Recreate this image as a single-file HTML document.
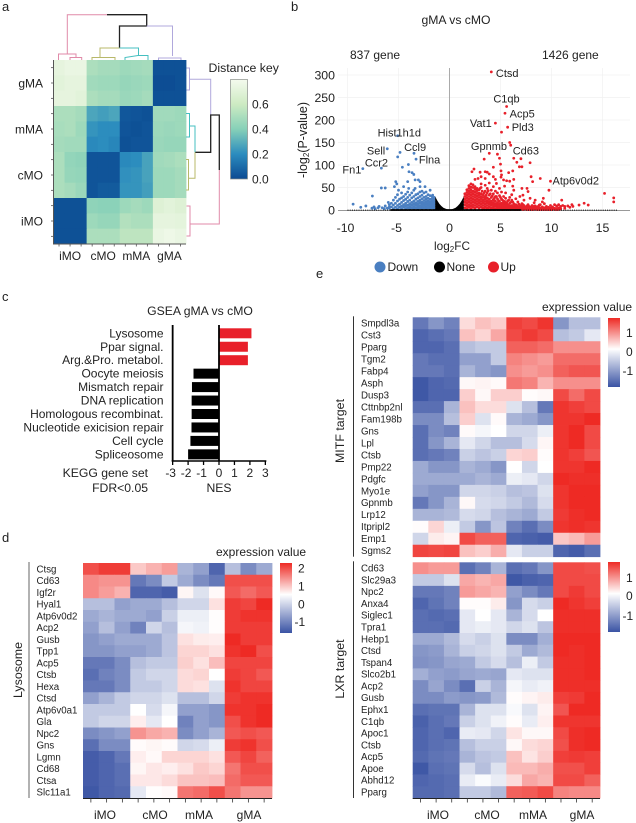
<!DOCTYPE html>
<html><head><meta charset="utf-8"><title>Figure panels a-e</title>
<style>
html,body{margin:0;padding:0;background:#fff;width:636px;height:823px;overflow:hidden}
svg{display:block;position:absolute;left:0;top:0;filter:blur(.3px)}
text{font-family:"Liberation Sans",sans-serif;fill:#222}
</style></head><body>
<svg id="fig" xmlns="http://www.w3.org/2000/svg" width="636" height="823" viewBox="0 0 636 823">
<defs>
<linearGradient id="gnbuGrad" x1="0" y1="1" x2="0" y2="0"><stop offset="0" stop-color="#0b4a92"/><stop offset=".25" stop-color="#2b8cbe"/><stop offset=".5" stop-color="#86d0b8"/><stop offset=".75" stop-color="#cdeac2"/><stop offset="1" stop-color="#f4faee"/></linearGradient>
<linearGradient id="bwrGrad" x1="0" y1="0" x2="0" y2="1"><stop offset="0" stop-color="#ee2a24"/><stop offset=".45" stop-color="#ffffff"/><stop offset="1" stop-color="#3a53a4"/></linearGradient>
</defs>
<text x="2" y="11" font-size="13">a</text>
<text x="291" y="11" font-size="13">b</text>
<text x="2" y="301" font-size="13">c</text>
<text x="2" y="542" font-size="13">d</text>
<text x="316" y="278" font-size="13">e</text>

<g id="panelA"></g>
<g fill="none" stroke-width="1">
<path stroke="#e08aa8" d="M107 14.7H67.3V53.5M58.5 60V54H76V57.5H70V60M81.7 60V57.5H76"/>
<path stroke="#222" stroke-width="1.3" d="M107 14.7H146.7V26H119.5V48"/>
<path stroke="#b0a8dc" d="M146.7 26H172.5V56M158.5 60V58H181V60"/>
<path stroke="#b8b86a" d="M119.5 48H100V57.5M92 60V57.5H115V60"/>
<path stroke="#45bfc0" d="M119.5 48H138.5V55M125 60V57.5L138 55.5H148V60"/>
</g>
<g fill="none" stroke-width="1">
<path stroke="#b0a8dc" d="M189 79.3H210.7V115M186.5 68H189.5V90H186.5"/>
<path stroke="#222" stroke-width="1.3" d="M195 152.3H210.7V115H219.3V170"/>
<path stroke="#e08aa8" d="M219.3 170V224H190V206H186.5M190 224V236H186.5"/>
<path stroke="#45bfc0" d="M195 152.3V126H189.5M186 113.5H189.5V137H186"/>
<path stroke="#b8b86a" d="M195 152.3V178.3H188.5M186 159.5H188.5V190H186"/>
</g>
<text x="208.5" y="72" font-size="12.3">Distance key</text>
<rect x="230.5" y="79.5" width="17" height="99.5" fill="url(#gnbuGrad)" stroke="#8a8f8a" stroke-width=".7"/>

<g id="panelB"></g>
<text x="456" y="24" font-size="12.2" text-anchor="middle">gMA vs cMO</text>
<text x="350" y="59" font-size="12">837 gene</text>
<text x="542" y="59" font-size="12">1426 gene</text>
<text transform="translate(307,140) rotate(-90)" font-size="12.5" text-anchor="middle">-log<tspan font-size="8" dy="2">2</tspan><tspan dy="-2">(P-value)</tspan></text>
<text x="452" y="250" font-size="11.8" text-anchor="middle">log<tspan font-size="8" dy="2">2</tspan><tspan dy="-2">FC</tspan></text>
<g font-size="12">
<circle cx="380" cy="267" r="5.5" fill="#4a7fc1"/><text x="387.5" y="271" font-size="12">Down</text>
<circle cx="439.5" cy="267" r="5.5" fill="#000"/><text x="446.5" y="271" font-size="12">None</text>
<circle cx="493.5" cy="267" r="5.5" fill="#e8202a"/><text x="500.5" y="271" font-size="12">Up</text>
</g>

<g id="panelC"></g>
<text x="200" y="315" font-size="12.2" text-anchor="middle">GSEA gMA vs cMO</text>
<text x="148" y="477" font-size="12.2" text-anchor="end">KEGG gene set</text>
<text x="148" y="492" font-size="12.2" text-anchor="end">FDR&lt;0.05</text>
<text x="219" y="492" font-size="12.2" text-anchor="middle">NES</text>

<g id="panelD"></g>
<g id="panelE1"></g>
<g id="panelE2"></g>
</svg>
<script>
// Panel a data
const distanceRowGroups = ["gMA","mMA","cMO","iMO"];
const distanceColGroups = ["iMO","cMO","mMA","gMA"];
const distanceKeyTicks = [0,0.2,0.4,0.6];
const distanceValues = [
[.72,.74,.74,.50,.48,.48,.46,.47,.48,.02,.02,.02],
[.70,.72,.72,.47,.46,.46,.44,.45,.46,.01,.01,.02],
[.72,.72,.70,.50,.48,.48,.45,.46,.48,.02,.02,.02],
[.50,.50,.48,.27,.25,.27,.04,.03,.02,.47,.47,.46],
[.49,.50,.46,.22,.20,.20,.03,.02,.03,.46,.45,.46],
[.48,.47,.47,.19,.20,.18,.02,.03,.03,.45,.44,.44],
[.50,.43,.42,.03,.03,.03,.19,.20,.26,.47,.48,.50],
[.50,.44,.43,.03,.03,.03,.21,.22,.26,.46,.46,.48],
[.50,.48,.45,.03,.05,.05,.22,.22,.25,.46,.46,.48],
[.02,.02,.02,.42,.41,.41,.46,.48,.46,.68,.70,.68],
[.02,.02,.02,.46,.44,.44,.52,.50,.50,.72,.72,.71],
[.02,.02,.02,.50,.50,.50,.55,.55,.55,.74,.76,.74]];

// Panel b data
const volcanoXTicks = [-10,-5,0,5,10,15];
const volcanoYTicks = [0,50,100,150,200,250,300];
const upPoints = [[4.1,307],[5.6,230],[5.44,215],[4.5,193],[5.1,173],[5.7,184],[5.9,150],[6,144],[3.9,126],[4.7,124],[3.4,113],[4.9,115],[5,102],[6.3,115],[7,114],[6.6,106],[7.9,105],[6.85,96],[7.1,96],[6.2,87],[5.8,83],[5.05,87],[5.1,78],[5.05,73],[2.4,91],[2.2,85],[3,84],[3.5,85],[3.7,84],[4.3,95],[3.9,80],[8,74],[8.9,70],[8.15,63],[9.9,64],[9.75,44],[2.5,68],[2.8,70],[3.1,74],[3.5,70],[4.3,74],[4.5,68],[4.6,59],[5.3,67],[5.6,65],[5.9,64],[6.3,68],[5.4,53],[6.2,53],[6.3,44],[7.1,48],[7.6,48],[7.7,41],[7.2,33],[7.9,26],[8.4,22],[9.2,26],[15.2,37],[16.1,27],[16.1,18],[13.6,11],[13.2,15],[12.7,11],[11,22],[12,12],[11.6,9],
[1.5,5],[1.5,12],[1.5,18],[1.5,24],[1.5,30],[1.5,36],[1.7,3],[1.7,9],[1.7,15],[1.7,21],[1.7,27],[1.7,33],[1.7,39],[1.7,45],[1.9,6],[1.9,12],[1.9,18],[1.9,24],[1.9,30],[1.9,36],[1.9,42],[1.9,48],[1.9,54],[2.1,3],[2.1,9],[2.1,15],[2.1,21],[2.1,27],[2.1,33],[2.1,39],[2.1,45],[2.1,51],[2.1,58],[2.3,6],[2.3,12],[2.3,18],[2.3,24],[2.3,30],[2.3,36],[2.3,42],[2.3,50],[2.3,56],[2.5,4],[2.5,10],[2.5,16],[2.5,22],[2.5,28],[2.5,34],[2.5,40],[2.5,46],[2.5,52],[2.7,7],[2.7,13],[2.7,19],[2.7,25],[2.7,31],[2.7,37],[2.7,43],[2.7,48],[2.9,4],[2.9,10],[2.9,16],[2.9,22],[2.9,28],[2.9,34],[2.9,38],[2.9,45],[3.1,7],[3.1,13],[3.1,19],[3.1,25],[3.1,30],[3.1,36],[3.1,50],[3.1,58],[3.3,4],[3.3,10],[3.3,16],[3.3,22],[3.3,28],[3.3,34],[3.5,7],[3.5,13],[3.5,19],[3.5,25],[3.5,30],[3.5,42],[3.5,55],[3.7,4],[3.7,10],[3.7,16],[3.7,21],[3.7,27],[3.7,38],[3.7,48],[3.9,7],[3.9,13],[3.9,18],[3.9,24],[3.9,33],[3.9,60],[4.1,4],[4.1,10],[4.1,15],[4.1,20],[4.1,28],[4.1,44],[4.3,6],[4.3,12],[4.3,17],[4.3,23],[4.3,36],[4.3,52],[4.5,3],[4.5,9],[4.5,14],[4.5,20],[4.5,30],[4.5,42],[4.7,6],[4.7,11],[4.7,16],[4.7,25],[4.7,38],[4.9,3],[4.9,8],[4.9,13],[4.9,19],[4.9,32],[4.9,48],[5.1,5],[5.1,10],[5.1,15],[5.1,24],[5.1,40],[5.3,3],[5.3,8],[5.3,13],[5.3,18],[5.3,30],[5.5,5],[5.5,10],[5.5,14],[5.5,26],[5.5,38],[5.7,3],[5.7,7],[5.7,12],[5.7,20],[5.9,5],[5.9,9],[5.9,15],[5.9,28],[6.1,2],[6.1,6],[6.1,10],[6.1,22],[6.1,34],[6.3,4],[6.3,8],[6.3,14],[6.5,2],[6.5,6],[6.5,12],[6.5,25],[6.7,3],[6.7,7],[6.7,18],[6.9,2],[6.9,5],[6.9,10],[6.9,30],[7.1,3],[7.1,7],[7.1,14],[7.3,2],[7.3,5],[7.3,10],[7.3,22],[7.5,3],[7.5,6],[7.7,2],[7.7,5],[7.7,12],[7.9,3],[7.9,7],[8.1,2],[8.1,4],[8.1,10],[8.3,3],[8.3,6],[8.3,16],[8.5,2],[8.5,5],[8.7,3],[8.7,8],[8.9,2],[8.9,5],[8.9,12],[9.1,3],[9.1,7],[9.1,18],[9.3,2],[9.3,5],[9.3,14],[9.5,3],[9.5,8],[9.7,2],[9.7,6],[9.9,4],[9.9,10],[10.1,2],[10.1,7],[10.3,4],[10.3,12],[10.5,3],[10.5,9],[10.7,5],[10.7,12],[10.9,3],[10.9,8],[11.1,10],[11.3,4],[11.3,8],[11.8,6],[12.1,8],
[3.2,1],[3.4,2],[3.6,1],[3.8,2],[4,1],[4.2,2],[4.4,1],[4.6,2],[4.8,1],[5,2],[5.2,1],[5.4,2],[5.6,1],[5.8,2],[6,1],[6.2,2],[6.4,1],[6.6,1],[6.8,1],[7,2],[7.2,1],[7.4,2],[7.6,1],[7.8,1],[8,1],[8.2,1],[8.4,2],[8.6,1],[8.8,1],[9,1],[9.2,1],[9.4,1],[9.6,1],[9.8,1],[10,1],[10.2,2],[10.4,1],[10.6,1],[10.8,2],[6.2,18],[6.4,11],[6.6,9],[6.8,13],[7,9],[7.2,12],[7.4,7],[7.6,9],[7.8,8],[8,6],[8.2,8],[8.4,9],[8.6,7],[8.8,11],[5.6,16],[5.8,22],[6,17],[4.8,21],[5,28],[5.2,22],[5.4,19],[4.4,26],[4.6,30],[4.2,31],[4,36],[3.8,43],[3.6,33],[3.4,38],[3.2,42],[3,48]];
const downPoints = [[-5.08,165],[-6.1,136],[-4.85,128],[-5.08,118],[-3.48,126],[-3.28,113],[-8.5,92],[-6.68,93],[-4.62,95],[-4.03,101],[-3.97,85],[-3.67,83],[-3.5,79],[-5.27,63],[-5.17,58],[-3.37,67],[-3.05,67],[-2.89,63],[-4.1,63],[-6.68,49],[-6.3,49],[-7.56,31],[-9.45,13],[-5.4,52],[-5,44],[-4.5,52],[-4,48],[-3.37,48],[-2.89,52],[-2.4,52],[-1.9,44],[-1.65,33],[-8.7,6],[-8.2,9],[-7.6,4],[-7.4,7],[-7.3,3],[-7,5],[-6.9,8],[-6.6,5],[-6.4,3],[-6.3,9],[-6.1,4],[-6,17],[-5.9,7],[-5.7,15],
[-1.5,3],[-1.5,8],[-1.5,13],[-1.5,18],[-1.5,23],[-1.5,28],[-1.7,5],[-1.7,10],[-1.7,15],[-1.7,20],[-1.7,25],[-1.7,30],[-1.9,3],[-1.9,8],[-1.9,13],[-1.9,18],[-1.9,24],[-1.9,32],[-2.1,5],[-2.1,10],[-2.1,15],[-2.1,20],[-2.1,26],[-2.1,34],[-2.3,3],[-2.3,8],[-2.3,13],[-2.3,18],[-2.3,24],[-2.3,30],[-2.3,40],[-2.5,5],[-2.5,10],[-2.5,15],[-2.5,21],[-2.5,28],[-2.5,38],[-2.7,3],[-2.7,8],[-2.7,13],[-2.7,18],[-2.7,25],[-2.7,33],[-2.7,42],[-2.9,5],[-2.9,10],[-2.9,16],[-2.9,22],[-2.9,30],[-2.9,40],[-3.1,3],[-3.1,8],[-3.1,13],[-3.1,19],[-3.1,27],[-3.1,36],[-3.3,5],[-3.3,11],[-3.3,16],[-3.3,24],[-3.3,34],[-3.5,3],[-3.5,8],[-3.5,14],[-3.5,20],[-3.5,30],[-3.5,44],[-3.7,5],[-3.7,11],[-3.7,17],[-3.7,27],[-3.7,38],[-3.9,3],[-3.9,8],[-3.9,14],[-3.9,22],[-3.9,33],[-4.1,5],[-4.1,11],[-4.1,19],[-4.1,28],[-4.1,40],[-4.3,3],[-4.3,9],[-4.3,15],[-4.3,24],[-4.3,35],[-4.5,6],[-4.5,12],[-4.5,21],[-4.5,30],[-4.7,3],[-4.7,9],[-4.7,17],[-4.7,27],[-4.7,38],[-4.9,6],[-4.9,13],[-4.9,24],[-5.1,3],[-5.1,10],[-5.1,20],[-5.1,34],[-5.3,6],[-5.3,15],[-5.3,28],[-5.5,3],[-5.5,11],[-5.5,22],[-5.7,7],[-5.9,4],[-5.9,12]];
const noneCurveX = [-1.4,-1.2,-1,-.8,-.6,-.4,-.2,0,.2,.4,.6,.8,1,1.2,1.4];
const noneCurveY = [30,21,14,9,5,3,1.5,1,1.5,3,5,9,14,21,30];
const noneBaseRange = [-5.8,7];
const noneDotRange = [-10,16.5];
const volcanoGeneNames = ["Ctsd","C1qb","Acp5","Vat1","Pld3","Hist1h1d","Gpnmb","Cd63","Sell","Ccl9","Flna","Ccr2","Fn1","Atp6v0d2"];
const volcanoGeneX = [4.55,4.3,5.9,2,6.1,-7.05,2.1,6.2,-8.1,-4.45,-3.0,-8.3,-10.5,10.1];
const volcanoGeneY = [305,248,215,193,184,172,142,132,132,140,112,106,90,66];

// Panel c data
const gseaTerms = ["Lysosome","Ppar signal.","Arg.&Pro. metabol.","Oocyte meiosis","Mismatch repair","DNA replication","Homologous recombinat.","Nucleotide exicision repair","Cell cycle","Spliceosome"];
const gseaNes = [2.1,1.87,1.87,-1.65,-1.75,-1.77,-1.77,-1.78,-1.85,-2.0];
const gseaTicks = [-3,-2,-1,0,1,2,3];

// Panel d data
const groupNames = ["iMO","cMO","mMA","gMA"];
const lysosomeGenes = ["Ctsg","Cd63","Igf2r","Hyal1","Atp6v0d2","Acp2","Gusb","Tpp1","Acp5","Ctsb","Hexa","Ctsd","Atp6v0a1","Gla","Npc2","Gns","Lgmn","Cd68","Ctsa","Slc11a1"];
const lysosomeValues = [
[1.6,1.8,1.8,.4,.6,.8,-.6,-.8,-1.4,-.5,-1,-.7],
[1,.9,.9,-1.2,-1,-.4,-.7,-1,-1.2,1.6,1.6,1.6],
[1,.8,.6,-1.4,-1.4,-1.5,.05,-.2,.03,1.5,1.3,1.5],
[-.5,-.5,-.8,-.7,-.7,-.5,-.3,-.3,.2,1.8,1.7,2],
[-.7,-.6,-.7,-.7,-.8,-.35,-.1,-.1,.01,1.8,1.9,1.9],
[-.8,-.5,-.8,-1.1,-.3,-.5,-.05,-.08,.01,1.8,1.8,1.8],
[-.9,-.8,-.7,-.7,-.7,-.45,.2,.12,.1,2,1.8,1.8],
[-.9,-.9,-.8,-.8,-.7,-.45,.3,.3,.2,1.9,2,1.6],
[-1.2,-1.2,-1,-.5,-.4,-.4,.35,.2,.5,1.7,1.7,1.7],
[-1.3,-1.1,-1,-.4,-.3,-.3,.25,.3,0,1.8,1.7,1.5],
[-1.2,-1.2,-1,-.4,-.4,-.3,.25,.2,-.2,1.9,1.7,1.7],
[-.8,-.6,-.4,-.3,-.3,-.2,-.5,-.5,-.3,1.8,1.9,1.9],
[-.4,-.4,-.4,0,-.25,-.05,-.8,-.8,-.9,1.9,1.9,2],
[-.4,-.3,-.3,.1,-.15,0,-1.1,-.8,-.9,1.6,1.9,2],
[-1,-.9,-.8,.9,.7,.6,-1,-.8,-.6,1.5,1.6,1.5],
[-1.3,-1,-1,.02,.05,.02,-.3,-.25,-.1,1.8,1.9,1.6],
[-1.5,-1.4,-1.2,.1,.03,.3,.3,.3,.2,1.5,1.7,1.4],
[-1.5,-1.4,-1.3,.05,.15,.1,.2,.4,.3,1.2,1.6,1.6],
[-1.5,-1.4,-1.3,.15,.15,.25,.45,.45,.5,1.3,1.5,1.5],
[-1.55,-1.4,-1.35,-.15,.01,.03,1.2,1.3,1.6,1.2,.9,.9]];
const lysosomeScaleTicks = [2,1,0,-1];

// Panel e data
const mitfGenes = ["Smpdl3a","Cst3","Pparg","Tgm2","Fabp4","Asph","Dusp3","Cttnbp2nl","Fam198b","Gns","Lpl","Ctsb","Pmp22","Pdgfc","Myo1e","Gpnmb","Lrp12","Itpripl2","Emp1","Sgms2"];
const mitfValues = [
[-1.2,-.9,-1.1,.2,.4,.3,1.5,1.4,1.6,-.9,-.5,-.5],
[-1.4,-1.3,-1.2,.4,.25,.6,1.4,1.55,1.4,-.5,-.4,-.15],
[-1.4,-1.4,-1.3,-.5,-.4,-.4,1.2,1.2,1.1,.8,.8,.8],
[-1.2,-1.3,-1.3,-.8,-.8,-.4,.9,.8,.7,1.1,1.1,1.1],
[-1.2,-1.2,-1.3,-.6,-.8,-.9,.8,.7,.8,1.2,1.3,1.3],
[-1.55,-1.4,-1.35,.03,.05,.02,1,.9,.5,.8,.8,.8],
[-1.55,-1.4,-1.4,.3,.03,.3,.3,.01,.03,1.4,1.1,1.4],
[-1.3,-1.3,-.6,.4,.2,.2,-.2,-.5,-1.2,1.6,1.5,1.4],
[-1,-1,-.5,.3,-.2,.02,-.6,-.7,-.9,1.6,1.6,1.7],
[-1.3,-1,-1.1,.02,-.05,0,-.3,-.3,-.1,1.6,1.7,1.4],
[-1.3,-.9,-.6,-.15,-.3,-.5,-.5,-.25,.04,1.6,1.75,1.4],
[-1.3,-1.2,-1.1,-.35,-.45,-.35,.25,.3,.01,1.6,1.5,1.3],
[-.7,-.9,-.9,-.6,-.7,-.9,0,-.3,0,1.6,1.6,1.7],
[-.7,-.7,-.7,-.7,-.6,-.7,-.1,-.15,-.3,1.7,1.65,1.65],
[-.8,-.9,-.9,-.3,-.3,-.35,-.5,-.45,-.2,1.6,1.7,1.7],
[-1.2,-.9,-.6,.03,-.25,-.3,-.4,-.55,-.25,1.6,1.7,1.7],
[-.6,-.6,-.55,-.25,-.3,-.5,-.6,-.7,-.4,1.55,1.65,1.75],
[.01,.25,-.1,-.4,-.9,-.45,-1.1,-1.3,-1,1.6,1.65,1.6],
[-.3,.1,.05,1.4,1.2,1.2,-1.4,-1.45,-1.5,.35,.45,.7],
[1.45,1.4,1.45,.4,.3,.55,-.15,-.35,-.35,-1.4,-1.5,-1.3]];
const lxrGenes = ["Cd63","Slc29a3","Npc2","Anxa4","Siglec1","Tpra1","Hebp1","Ctsd","Tspan4","Slco2b1","Acp2","Gusb","Ephx1","C1qb","Apoc1","Ctsb","Acp5","Apoe","Abhd12","Pparg"];
const lxrValues = [
[.8,.7,.7,-1.3,-1.1,-.6,-1.3,-1.2,-.9,1.4,1.4,1.35],
[-.4,-.4,-.2,.6,.5,.6,-1.55,-1.45,-1.4,1.4,1.4,1.4],
[-1.2,-1.2,-1.1,.7,.6,.5,-.8,-1,-1.2,1.4,1.55,1.4],
[-1.4,-1.25,-1.1,.01,.01,.1,-.9,-.25,-.35,1.75,1.6,1.5],
[-1.3,-1.35,-1.3,-.15,0,-.15,-.6,-.25,0,1.65,1.65,1.65],
[-1.3,-1.3,-1.35,-.15,-.1,-.15,-.3,-.2,-.45,1.65,1.65,1.65],
[-.7,-.7,-.55,-.25,-.35,-.2,-1,-1,-.65,1.7,1.7,1.7],
[-.9,-.85,-.6,-.35,-.3,-.2,-.4,-.7,-.55,1.7,1.65,1.7],
[-.95,-.9,-.75,-.7,-.4,-.25,-.5,-.1,-.4,1.65,1.65,1.75],
[-.65,-.8,-.85,-.75,-.7,-.75,-.15,-.2,-.2,1.65,1.65,1.75],
[-1,-.75,-1,-1.3,-.35,-.6,-.05,-.12,-.08,1.65,1.65,1.65],
[-1,-1,-.85,-.9,-.85,-.55,.01,.05,.1,1.5,1.55,1.75],
[-1.3,-1.25,-1.25,-.6,-.2,-.2,-.03,-.2,.05,1.3,1.7,1.75],
[-1.45,-1.3,-1.2,-.35,-.2,-.08,.01,-.12,.08,1.6,1.6,1.6],
[-1.4,-1.3,-1.4,-.12,-.15,-.3,.15,.03,.03,1.4,1.65,1.75],
[-1.4,-1.3,-1.25,-.5,-.35,-.35,.03,.2,.25,1.35,1.65,1.7],
[-1.35,-1.25,-1.2,-.6,-.45,-.4,.4,.15,.3,1.5,1.55,1.5],
[-1.55,-1.3,-1.25,-.25,-.5,-.2,.45,.45,.55,1.35,1.35,1.5],
[-1.4,-1.35,-1.3,-.12,-.02,-.12,.2,.6,.5,1.4,1.4,1.2],
[-1.35,-1.35,-1.3,-.4,-.4,-.55,1.2,1.25,1.4,.9,.85,.85]];
const expressionScaleTicks = [1,0,-1];

const NS = 'http://www.w3.org/2000/svg';
function mk(parent, tag, attrs, txt) {
  const e = document.createElementNS(NS, tag);
  for (const k in attrs) e.setAttribute(k, attrs[k]);
  if (txt !== undefined) e.textContent = txt;
  parent.appendChild(e);
  
  return e;
}
function mix(a, b, t) {
  t = Math.max(0, Math.min(1, t));
  return 'rgb(' + a.map((v, i) => Math.round(v + (b[i] - v) * t)).join(',') + ')';
}
const BLUE = [58, 83, 164], WHITE = [255, 255, 255], RED = [238, 42, 36];
function divergingColor(v, lo, hi) {
  return v < 0 ? mix(WHITE, BLUE, Math.pow(v / lo, .85)) : mix(WHITE, RED, Math.pow(v / hi, .85));
}
const gnbuStops = [[11,74,146],[43,140,190],[134,208,184],[205,234,194],[244,250,238]];
function gnbuColor(v) {
  const p = Math.max(0, Math.min(.999, v / 0.79)) * 4, i = Math.floor(p);
  return mix(gnbuStops[i], gnbuStops[i + 1], p - i);
}

/* ---------- Panel a ---------- */
(function () {
  const g = document.getElementById('panelA');
  const x0 = 53.5, y0 = 60, cw = 132.5 / 12, ch = 184 / 12;
  distanceValues.forEach((row, r) => row.forEach((v, c) => {
    const cell = mk(g, 'rect', {x: x0 + c * cw, y: y0 + r * ch, width: cw + .4, height: ch + .4, fill: gnbuColor(v)});
    
  }));
  const ax = mk(g, 'path', {d: `M${x0} ${y0}V${y0 + 184}H${x0 + 132.5}`, fill: 'none', stroke: '#555', 'stroke-width': 1});
  
  for (let i = 0; i < 12; i++) {
    const t1 = mk(g, 'line', {x1: x0 - 2.5, x2: x0, y1: y0 + (i + .5) * ch, y2: y0 + (i + .5) * ch, stroke: '#555', 'stroke-width': .8});
    
    const t2 = mk(g, 'line', {x1: x0 + (i + .5) * cw, x2: x0 + (i + .5) * cw, y1: y0 + 184, y2: y0 + 186.5, stroke: '#555', 'stroke-width': .8});
    
  }
  distanceRowGroups.forEach((n, i) => {
    const t = mk(g, 'text', {x: 43, y: y0 + (i * 3 + 1.5) * ch + 4.5, 'font-size': 12, 'text-anchor': 'end'}, n);
    
  });
  distanceColGroups.forEach((n, i) => {
    const t = mk(g, 'text', {x: x0 + (i * 3 + 1.5) * cw, y: 260, 'font-size': 12, 'text-anchor': 'middle'}, n);
    
  });
  distanceKeyTicks.forEach(v => {
    const t = mk(g, 'text', {x: 252, y: 179 - v * 125 + 4.5, 'font-size': 12}, v.toFixed(1));
    
  });
})();

/* ---------- Panel b ---------- */
(function () {
  const g = document.getElementById('panelB');
  const sx = v => 449.5 + v * 10.2;
  const sy = v => 210 - v * 0.45;
  volcanoYTicks.forEach(v => {
    if (v) {
      const l = mk(g, 'line', {x1: 338, x2: 630, y1: sy(v), y2: sy(v), stroke: '#f1f1f1', 'stroke-width': .7});
      
    }
    const t = mk(g, 'text', {x: 335, y: sy(v) + 4.5, 'font-size': 12.3, 'text-anchor': 'end'}, v);
    
  });
  volcanoXTicks.forEach(v => {
    if (v) {
      const l = mk(g, 'line', {x1: sx(v), x2: sx(v), y1: 68, y2: 210, stroke: '#f1f1f1', 'stroke-width': .7});
      
    }
    const t = mk(g, 'text', {x: sx(v) - (v < 0 ? 2 : 0), y: 232, 'font-size': 12.3, 'text-anchor': 'middle'}, v);
    
  });
  const z = mk(g, 'line', {x1: sx(0), x2: sx(0), y1: 68, y2: 210, stroke: '#aaa', 'stroke-width': 1});
  
  const b = mk(g, 'line', {x1: 338, x2: 630, y1: 210.5, y2: 210.5, stroke: '#999', 'stroke-width': 1});
  
  downPoints.forEach(p => {
    const c = mk(g, 'circle', {cx: sx(p[0]), cy: sy(p[1]), r: 1.4, fill: '#4a7fc1'});
    
  });
  upPoints.forEach(p => {
    const c = mk(g, 'circle', {cx: sx(p[0]), cy: sy(p[1]), r: 1.4, fill: '#e8202a'});
    
  });
  const d = mk(g, 'line', {x1: sx(noneDotRange[0]), x2: sx(noneDotRange[1]), y1: 210.2, y2: 210.2, stroke: '#111', 'stroke-width': 1.1, 'stroke-dasharray': '1 1.2'});
  
  const base = mk(g, 'line', {x1: sx(noneBaseRange[0]), x2: sx(noneBaseRange[1]), y1: 210, y2: 210, stroke: '#000', 'stroke-width': 1.8});
  
  const pts = noneCurveX.map((x, i) => sx(x) + ',' + sy(noneCurveY[i])).join(' ') + ' ' + sx(noneCurveX[noneCurveX.length - 1]) + ',' + sy(0) + ' ' + sx(noneCurveX[0]) + ',' + sy(0);
  const v = mk(g, 'polygon', {points: pts, fill: '#000'});
  
  volcanoGeneNames.forEach((n, i) => {
    const t = mk(g, 'text', {x: sx(volcanoGeneX[i]), y: sy(volcanoGeneY[i]) + 4, 'font-size': 11}, n);
    
  });
})();

/* ---------- Panel c ---------- */
(function () {
  const g = document.getElementById('panelC');
  const sx = v => 219 + v * 15.45;
  const rowY = i => 333.3 + i * 13.45;
  gseaTerms.forEach((n, i) => {
    const t = mk(g, 'text', {x: 163.5, y: rowY(i) + 4, 'font-size': 12, 'text-anchor': 'end'}, n);
    
    const v = gseaNes[i];
    const b = mk(g, 'rect', {x: Math.min(sx(0), sx(v)), y: rowY(i) - 5, width: Math.abs(sx(v) - sx(0)), height: 10, fill: v > 0 ? '#e8202a' : '#000'});
    
  });
  const left = mk(g, 'line', {x1: sx(-3), x2: sx(-3), y1: 325, y2: 461, stroke: '#000', 'stroke-width': 1.8});
  
  const mid = mk(g, 'line', {x1: sx(0), x2: sx(0), y1: 325, y2: 461, stroke: '#000', 'stroke-width': 1.8});
  
  const bot = mk(g, 'line', {x1: sx(-3) - 1, x2: sx(3) + 1, y1: 461, y2: 461, stroke: '#000', 'stroke-width': 1.6});
  
  gseaTicks.forEach(v => {
    const l = mk(g, 'line', {x1: sx(v), x2: sx(v), y1: 461, y2: 465, stroke: '#000', 'stroke-width': 1.3});
    
    const t = mk(g, 'text', {x: sx(v) - (v < 0 ? 2 : 0), y: 477, 'font-size': 12, 'text-anchor': 'middle'}, v);
    
  });
})();

/* ---------- Expression heatmaps ---------- */
function drawHeatmap(g, o) {
  const cw = o.w / 12, ch = o.h / o.values.length;
  o.values.forEach((row, r) => row.forEach((v, c) => {
    const cell = mk(g, 'rect', {x: o.x + c * cw, y: o.y + r * ch, width: cw + .4, height: ch + .4, fill: divergingColor(v, o.lo, o.hi)});
    
  }));
  o.genes.forEach((n, r) => {
    const t = mk(g, 'text', {x: o.labelX, y: o.y + (r + .5) * ch + 3.4, 'font-size': 9.7}, n);
    
  });
  const bar = mk(g, 'rect', {x: o.labelX - 8, y: o.y - 1, width: 1, height: o.h + 1, fill: o.barColor});
  
  const title = mk(g, 'text', {transform: `translate(${o.sideX},${o.sideCY}) rotate(-90)`, 'font-size': 12.4, 'text-anchor': 'middle'}, o.side);
  
  const cb = mk(g, 'rect', {x: o.barX, y: o.barY0, width: 12, height: o.barH, fill: 'url(#bwrGrad)'});
  
  o.ticks.forEach((v, i) => {
    const t = mk(g, 'text', {x: o.barX + 18 + (v < 0 ? -3.5 : 0), y: o.tickY[i], 'font-size': 12}, v);
    
  });
  if (o.title) {
    const t = mk(g, 'text', {x: o.titleX, y: o.titleY, 'font-size': 12}, 'expression value');
    
  }
  if (o.axis) {
    const ln = mk(g, 'line', {x1: o.x, x2: o.x + o.w, y1: o.y + o.h + .5, y2: o.y + o.h + .5, stroke: '#222', 'stroke-width': 1});
    
    for (let c = 0; c < 12; c++) {
      const tk = mk(g, 'line', {x1: o.x + (c + .5) * cw, x2: o.x + (c + .5) * cw, y1: o.y + o.h, y2: o.y + o.h + 4.5, stroke: '#333', 'stroke-width': .8});
      
    }
    groupNames.forEach((n, i) => {
      const t = mk(g, 'text', {x: o.groupX[i], y: 819, 'font-size': 12, 'text-anchor': 'middle'}, n);
      
    });
  }
}
drawHeatmap(document.getElementById('panelD'), {
  x: 83, y: 563, w: 189, h: 235, values: lysosomeValues, genes: lysosomeGenes, lo: -1.6, hi: 2,
  labelX: 36.5, barColor: '#666', side: 'Lysosome', sideX: 22, sideCY: 670, barX: 280, barY0: 563, barH: 70,
  ticks: lysosomeScaleTicks, tickY: [572.5, 590.5, 608.5, 626], title: true, titleX: 216, titleY: 556, axis: true, groupX: [105, 155, 199, 249]
});
drawHeatmap(document.getElementById('panelE1'), {
  x: 412.7, y: 317.3, w: 187.3, h: 239.4, values: mitfValues, genes: mitfGenes, lo: -1.6, hi: 1.7,
  labelX: 361, barColor: '#333', side: 'MITF target', sideX: 344, sideCY: 431, barX: 608, barY0: 318, barH: 69,
  ticks: expressionScaleTicks, tickY: [337, 356, 375], title: true, titleX: 542, titleY: 311
});
drawHeatmap(document.getElementById('panelE2'), {
  x: 412.7, y: 562.3, w: 187.3, h: 235.7, values: lxrValues, genes: lxrGenes, lo: -1.6, hi: 1.7,
  labelX: 361, barColor: '#333', side: 'LXR target', sideX: 344, sideCY: 669, barX: 608, barY0: 562, barH: 70,
  ticks: expressionScaleTicks, tickY: [582, 600, 620], axis: true, groupX: [438, 487, 533, 582]
});
</script>
</body></html>
